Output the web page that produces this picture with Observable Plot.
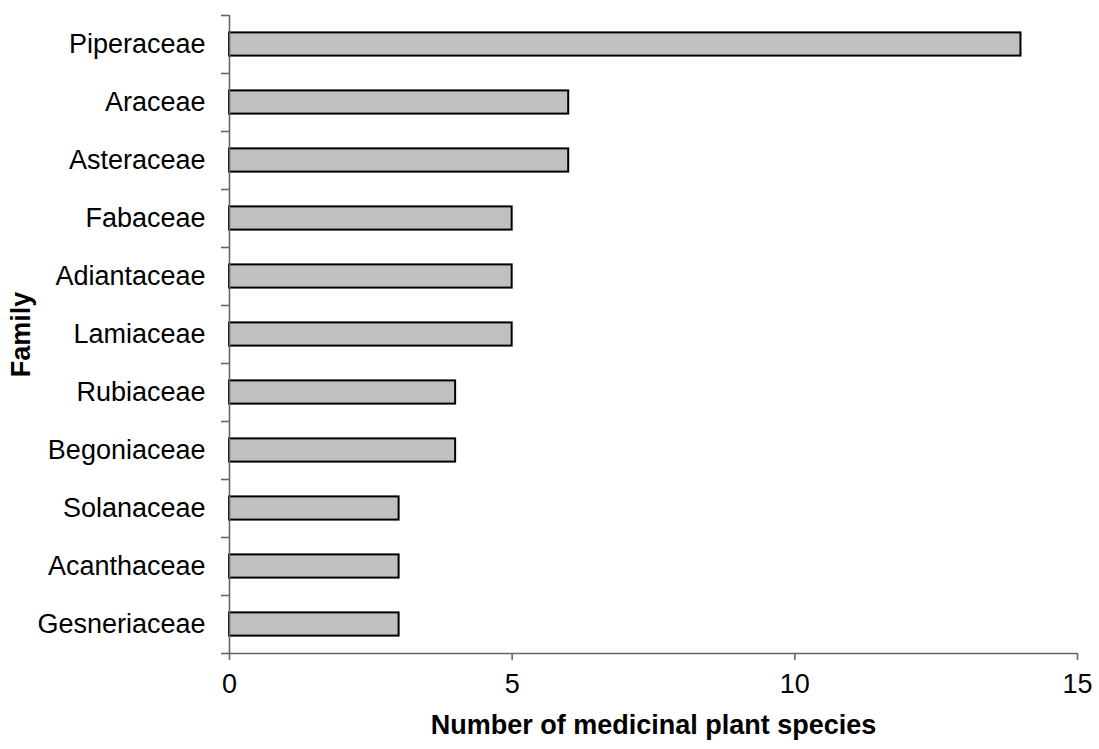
<!DOCTYPE html>
<html>
<head>
<meta charset="utf-8">
<script src="https://cdn.jsdelivr.net/npm/d3@7"></script>
<script src="https://cdn.jsdelivr.net/npm/@observablehq/plot@0.6"></script>
<style>
  html, body { margin: 0; padding: 0; background: #fff; }
</style>
</head>
<body>
<div id="chart"></div>
<script>
const families = ["Piperaceae", "Araceae", "Asteraceae", "Fabaceae", "Adiantaceae", "Lamiaceae", "Rubiaceae", "Begoniaceae", "Solanaceae", "Acanthaceae", "Gesneriaceae"];
const counts = [14, 6, 6, 5, 5, 5, 4, 4, 3, 3, 3];
const xTicks = [0, 5, 10, 15];
const xLabel = "Number of medicinal plant species";
const yLabel = "Family";

const rows = families.map((f, i) => ({family: f, idx: i, count: counts[i]}));
const positions = families.map((_, i) => i);
const bounds = families.map((_, i) => i - 0.5).concat([families.length - 0.5]);
const axisColor = "#666";

const chart = Plot.plot({
  width: 1099,
  height: 749,
  marginLeft: 229,
  marginRight: 22,
  marginTop: 15,
  marginBottom: 96,
  style: {fontFamily: "'Liberation Sans', Arial, sans-serif", fontSize: "27px", color: "#000", background: "#fff"},
  x: {domain: [0, 15]},
  y: {domain: [-0.5, families.length - 0.5], reverse: true},
  marks: [
    Plot.rect(rows, {x1: 0, x2: "count", y1: d => d.idx - 0.2, y2: d => d.idx + 0.2, fill: "#c0c0c0", stroke: "#000", strokeWidth: 2}),
    Plot.ruleX([0], {y1: bounds[0], y2: bounds[bounds.length - 1], stroke: axisColor, strokeWidth: 1.6}),
    Plot.ruleY([bounds[bounds.length - 1]], {x1: 0, x2: 15, stroke: axisColor, strokeWidth: 1.6}),
    Plot.axisY(bounds, {tickSize: 8, tickFormat: () => "", stroke: axisColor, strokeWidth: 1.6, label: null}),
    Plot.axisY(positions, {tickSize: 0, tickPadding: 24, tickFormat: i => families[i], fill: "#000", fontSize: 27, label: null}),
    Plot.axisX(xTicks, {tickSize: 7, tickPadding: 13, stroke: axisColor, strokeWidth: 1.6, label: null, fontSize: 27, fill: "#000"}),
    Plot.axisX([], {label: xLabel, labelAnchor: "center", labelArrow: "none", labelOffset: 80, fontWeight: "bold", fontSize: 27, fill: "#000"}),
    Plot.axisY([], {label: yLabel, labelAnchor: "center", labelArrow: "none", labelOffset: 219, fontWeight: "bold", fontSize: 27, fill: "#000"})
  ]
});
document.getElementById("chart").appendChild(chart);
</script>
</body>
</html>
